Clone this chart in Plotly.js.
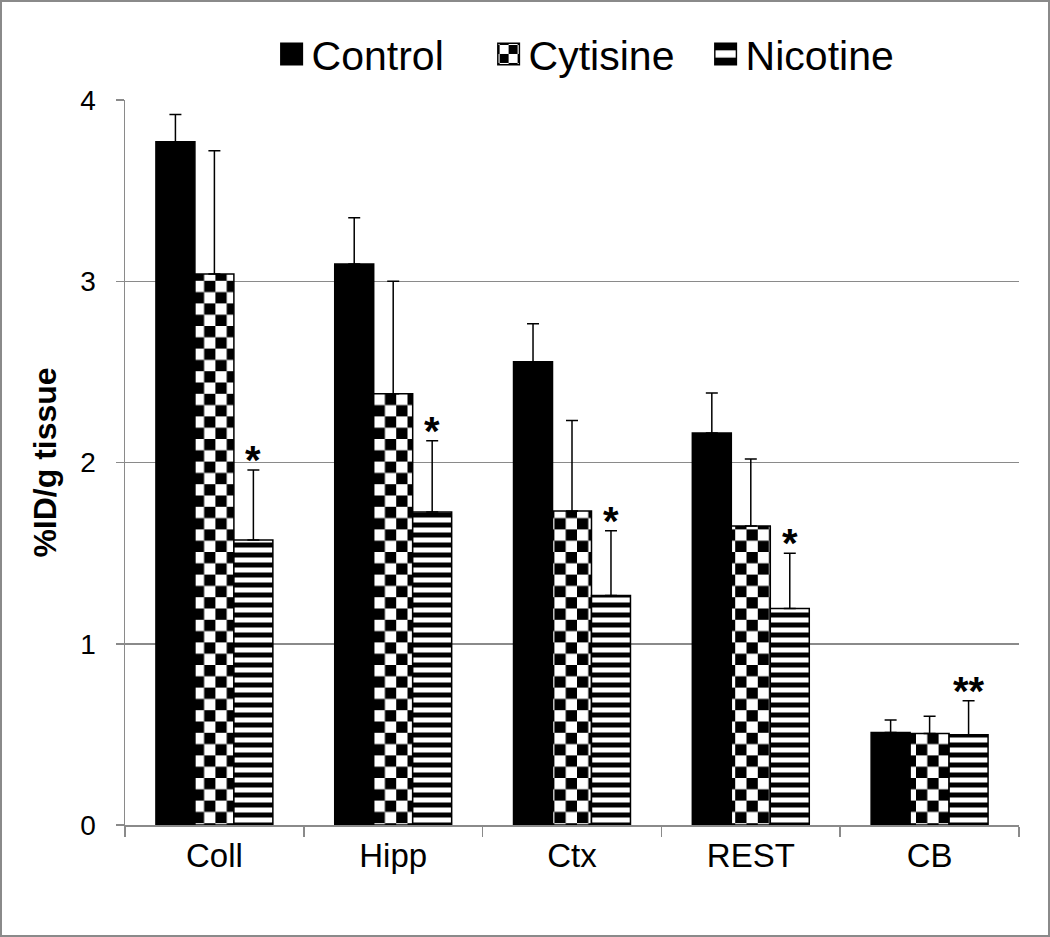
<!DOCTYPE html>
<html>
<head>
<meta charset="utf-8">
<script src="https://cdn.plot.ly/plotly-3.0.1.min.js"></script>
<style>
  html, body { margin: 0; padding: 0; background: #fff; }
  #chart { width: 1046px; height: 933px; border: 2px solid #8a8a8a; }
</style>
</head>
<body>
<div id="chart"></div>
<script>
// ---- data ----
const categories = ['Coll', 'Hipp', 'Ctx', 'REST', 'CB'];
const seriesNames = ['Control', 'Cytisine', 'Nicotine'];
const control = [3.77, 3.095, 2.556, 2.163, 0.51];
const controlErr = [0.15, 0.255, 0.21, 0.22, 0.07];
const cytisine = [3.04, 2.38, 1.732, 1.65, 0.505];
const cytisineErr = [0.68, 0.62, 0.50, 0.37, 0.095];
const nicotine = [1.572, 1.727, 1.266, 1.195, 0.498];
const nicotineErr = [0.387, 0.393, 0.358, 0.305, 0.187];
const nicotineSig = ['*', '*', '*', '*', '**'];
const yTicks = [0, 1, 2, 3, 4];
const yTitle = '%ID/g tissue';

// ---- layout constants ----
const W = 1046, H = 933;
const M = { l: 123, r: 29, t: 98, b: 110 };
const BARGAP = 0.346;
const FONT = 'Arial, "Liberation Sans", sans-serif';

function errSpec(arr) {
  return { type: 'data', symmetric: false, array: arr, arrayminus: arr.map(() => 0),
           color: '#000', thickness: 1.5, width: 6 };
}

const traces = [
  { type: 'bar', name: seriesNames[0], x: categories, y: control,
    marker: { color: '#000', line: { color: '#000', width: 1.5 } },
    error_y: errSpec(controlErr) },
  { type: 'bar', name: seriesNames[1], x: categories, y: cytisine,
    marker: { color: '#fff', line: { color: '#000', width: 1.5 },
              pattern: { shape: '+', fgcolor: '#000', bgcolor: '#fff', size: 10, solidity: 0.5 } },
    error_y: errSpec(cytisineErr) },
  { type: 'bar', name: seriesNames[2], x: categories, y: nicotine,
    marker: { color: '#fff', line: { color: '#000', width: 1.5 },
              pattern: { shape: '-', fgcolor: '#000', bgcolor: '#fff', size: 10, solidity: 0.5 } },
    error_y: errSpec(nicotineErr) }
];

const plotW = W - M.l - M.r;
const barW = plotW / categories.length * (1 - BARGAP) / 3;

const annotations = categories.map((c, i) => ({
  x: c, y: nicotine[i] + nicotineErr[i], xref: 'x', yref: 'y',
  xshift: barW, yshift: -14, yanchor: 'bottom', xanchor: 'center',
  text: '<b>' + nicotineSig[i] + '</b>', showarrow: false,
  font: { family: FONT, size: 40, color: '#000' }
}));

const layout = {
  width: W, height: H,
  margin: M,
  paper_bgcolor: '#fff', plot_bgcolor: '#fff',
  barmode: 'group', bargap: BARGAP, bargroupgap: 0,
  font: { family: FONT, color: '#000' },
  showlegend: true,
  legend: { orientation: 'h', x: 0.164, xanchor: 'left', y: 1.063, yanchor: 'middle',
            entrywidth: 172, entrywidthmode: 'pixels',
            font: { family: FONT, size: 41, color: '#000' }, traceorder: 'normal',
            bgcolor: 'rgba(0,0,0,0)' },
  xaxis: { type: 'category', showline: true, linecolor: '#8a8a8a', linewidth: 1.5,
           ticks: 'outside', tickson: 'boundaries', ticklen: 10, tickcolor: '#8a8a8a', tickwidth: 1.5,
           showgrid: false, tickfont: { family: FONT, size: 33, color: '#000' },
           ticklabelstandoff: 1 },
  yaxis: { range: [0, 4], tickvals: yTicks, ticktext: yTicks.map(String),
           showline: true, linecolor: '#8a8a8a', linewidth: 1.5,
           ticks: 'outside', ticklen: 8, tickcolor: '#8a8a8a', tickwidth: 1.5,
           showgrid: true, gridcolor: '#8a8a8a', gridwidth: 1.5, zeroline: false,
           tickfont: { family: FONT, size: 28, color: '#000' }, ticklabelstandoff: 14,
           title: { text: '<b>' + yTitle + '</b>', font: { family: FONT, size: 32, color: '#000' }, standoff: 14 } },
  annotations: annotations
};

function applyChecker(gd) {
  const svg = gd.querySelector('svg.main-svg');
  if (!svg) return;
  const defs = svg.querySelector('defs');
  const NS = 'http://www.w3.org/2000/svg';
  function makePattern(id, s) {
    if (svg.querySelector('#' + id)) return;
    const p = document.createElementNS(NS, 'pattern');
    p.setAttribute('id', id);
    p.setAttribute('patternUnits', 'userSpaceOnUse');
    p.setAttribute('width', 2 * s); p.setAttribute('height', 2 * s);
    const bg = document.createElementNS(NS, 'rect');
    bg.setAttribute('width', 2 * s); bg.setAttribute('height', 2 * s); bg.setAttribute('fill', '#fff');
    p.appendChild(bg);
    [[s, 0], [0, s]].forEach(([x, y]) => {
      const r = document.createElementNS(NS, 'rect');
      r.setAttribute('x', x); r.setAttribute('y', y);
      r.setAttribute('width', s); r.setAttribute('height', s); r.setAttribute('fill', '#000');
      p.appendChild(r);
    });
    defs.appendChild(p);
  }
  makePattern('chk', 11.3);
  makePattern('chkLegend', 5);
  const barTraces = gd.querySelectorAll('.barlayer .trace');
  if (barTraces[1]) barTraces[1].querySelectorAll('.point path').forEach(p => { p.style.fill = 'url(#chk)'; });
  const legTraces = gd.querySelectorAll('.legend .traces');
  legTraces.forEach((t, i) => {
    t.querySelectorAll('.legendpoints path').forEach(p => {
      if (!p.hasAttribute('data-orig-t')) p.setAttribute('data-orig-t', p.getAttribute('transform') || '');
      p.setAttribute('transform', p.getAttribute('data-orig-t') + ' scale(1.8)');
      p.style.strokeWidth = '0.8px';
      if (i === 1) p.style.fill = 'url(#chkLegend)';
    });
  });
}

const gd = document.getElementById('chart');
Plotly.newPlot(gd, traces, layout, { displayModeBar: false, staticPlot: true }).then(() => {
  applyChecker(gd);
  gd.on('plotly_afterplot', () => applyChecker(gd));
});
</script>
</body>
</html>
